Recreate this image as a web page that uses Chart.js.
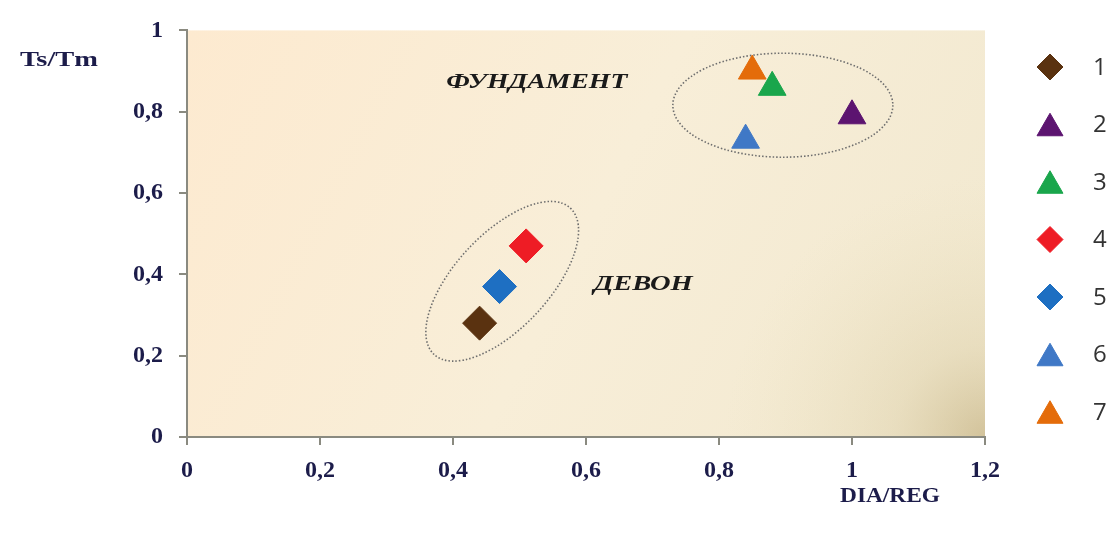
<!DOCTYPE html>
<html>
<head>
<meta charset="utf-8">
<script src="https://cdn.jsdelivr.net/npm/chart.js@4.4.0/dist/chart.umd.min.js"></script>
<style>
  html, body { margin: 0; padding: 0; background: #fff; }
</style>
</head>
<body>
<canvas id="chart" width="1114" height="533"></canvas>
<script>
// values
const seriesLabels = ['1', '2', '3', '4', '5', '6', '7'];
const diaReg = [0.44, 1.00, 0.88, 0.51, 0.47, 0.84, 0.85];
const tsTm = [0.28, 0.79, 0.86, 0.47, 0.37, 0.73, 0.90];
const markerStyles = ['rectRot', 'triangle', 'triangle', 'rectRot', 'rectRot', 'triangle', 'triangle'];
const markerColors = ['#5a3210', '#5c1470', '#1aa64c', '#ee1c25', '#1e6fc2', '#3f78c6', '#e46c0a'];
const xTickLabels = ['0', '0,2', '0,4', '0,6', '0,8', '1', '1,2'];
const yTickLabels = ['0', '0,2', '0,4', '0,6', '0,8', '1'];
const groupNames = ['ФУНДАМЕНТ', 'ДЕВОН'];
const groupLabelX = [0.526, 0.686];
const groupLabelY = [0.872, 0.376];
const groupCenterX = [0.896, 0.474];
const groupCenterY = [0.816, 0.383];

const serif = '"Liberation Serif", "Times New Roman", serif';
const navy = '#1c1c4a';
const axisGrey = '#8a8a80';

function stretchText(ctx, text, x, y, targetW) {
    const w = ctx.measureText(text).width;
    ctx.save();
    ctx.translate(x, y);
    ctx.scale(targetW / w, 1);
    ctx.textAlign = 'center';
    ctx.textBaseline = 'middle';
    ctx.fillText(text, 0, 0);
    ctx.restore();
}

const plotBackground = {
    id: 'plotBackground',
    beforeDraw(chart) {
        const { ctx, chartArea: a } = chart;
        ctx.save();
        const lin = ctx.createLinearGradient(a.left, a.top, a.right, a.bottom);
        lin.addColorStop(0, '#fdead0');
        lin.addColorStop(0.5, '#f8eed8');
        lin.addColorStop(1, '#f1e8cf');
        ctx.fillStyle = lin;
        ctx.fillRect(a.left, a.top, a.right - a.left, a.bottom - a.top);
        const rad = ctx.createRadialGradient(a.right, a.bottom, 0, a.right, a.bottom, 260);
        rad.addColorStop(0, 'rgba(190,170,120,0.6)');
        rad.addColorStop(0.35, 'rgba(210,195,150,0.3)');
        rad.addColorStop(1, 'rgba(230,220,180,0)');
        ctx.fillStyle = rad;
        ctx.fillRect(a.left, a.top, a.right - a.left, a.bottom - a.top);
        ctx.restore();
    }
};

const groups = {
    id: 'groups',
    beforeDatasetsDraw(chart) {
        const { ctx, scales: { x, y } } = chart;
        // ellipse sizes in pixels: [rx, ry, rotation]
        const shapes = [[110, 52, 0], [100, 47, -47 * Math.PI / 180]];
        ctx.save();
        ctx.strokeStyle = '#6e6e6e';
        ctx.lineWidth = 1.6;
        ctx.setLineDash([1.5, 2]);
        groupNames.forEach((name, i) => {
            const cx = x.getPixelForValue(groupCenterX[i]);
            const cy = y.getPixelForValue(groupCenterY[i]);
            ctx.beginPath();
            ctx.ellipse(cx, cy, shapes[i][0], shapes[i][1], shapes[i][2], 0, Math.PI * 2);
            ctx.stroke();
        });
        ctx.setLineDash([]);
        ctx.fillStyle = '#1a1a1a';
        ctx.font = 'italic bold 22px ' + serif;
        const widths = [181, 99];
        groupNames.forEach((name, i) => {
            stretchText(ctx, name, x.getPixelForValue(groupLabelX[i]), y.getPixelForValue(groupLabelY[i]), widths[i]);
        });
        ctx.restore();
    },
    afterDraw(chart) {
        const { ctx } = chart;
        ctx.save();
        ctx.fillStyle = navy;
        ctx.font = 'bold 22px ' + serif;
        stretchText(ctx, 'Ts/Tm', 59, 60, 78);
        stretchText(ctx, 'DIA/REG', 890, 496, 100);

        // legend
        ctx.font = '24px "Open Sans", sans-serif';
        ctx.textAlign = 'left';
        ctx.textBaseline = 'middle';
        seriesLabels.forEach((lab, i) => {
            const cy = 67 + i * 57.5;
            const tri = markerStyles[i] === 'triangle';
            const r = tri ? 15 : 13;
            ctx.fillStyle = markerColors[i];
            ctx.strokeStyle = markerColors[i];
            Chart.helpers.drawPoint(ctx, { pointStyle: markerStyles[i], radius: r, borderWidth: 1, rotation: 0 },
                1050, tri ? cy + r / 4 : cy);
            ctx.fillStyle = '#333';
            ctx.fillText(lab, 1093, cy + 1);
        });
        ctx.restore();
    }
};

const datasets = seriesLabels.map((lab, i) => ({
    label: lab,
    data: [{ x: diaReg[i], y: tsTm[i] }],
    pointStyle: markerStyles[i],
    pointRadius: markerStyles[i] === 'triangle' ? 16 : 17,
    pointHoverRadius: markerStyles[i] === 'triangle' ? 16 : 17,
    backgroundColor: markerColors[i],
    borderColor: markerColors[i],
    borderWidth: 1
}));

const tickFont = { family: serif, size: 24, weight: 'bold' };

new Chart(document.getElementById('chart'), {
    type: 'scatter',
    data: { datasets },
    options: {
        responsive: false,
        animation: false,
        layout: { padding: { top: 30, right: 129, left: 0, bottom: 0 } },
        plugins: { legend: { display: false }, tooltip: { enabled: false } },
        scales: {
            x: {
                type: 'linear', min: 0, max: 1.2,
                afterFit: s => { s.height = 96; },
                grid: { drawOnChartArea: false, drawTicks: true, tickLength: 8, color: axisGrey, lineWidth: 2 },
                border: { display: true, color: axisGrey, width: 2 },
                ticks: { stepSize: 0.2, padding: 11, color: navy, font: tickFont,
                         callback: (v, i) => xTickLabels[i] }
            },
            y: {
                type: 'linear', min: 0, max: 1,
                afterFit: s => { s.width = 187; },
                grid: { drawOnChartArea: false, drawTicks: true, tickLength: 8, color: axisGrey, lineWidth: 2 },
                border: { display: true, color: axisGrey, width: 2 },
                ticks: { stepSize: 0.2, padding: 16, color: navy, font: tickFont,
                         callback: (v, i) => yTickLabels[i] }
            }
        }
    },
    plugins: [plotBackground, groups]
});
</script>
</body>
</html>
